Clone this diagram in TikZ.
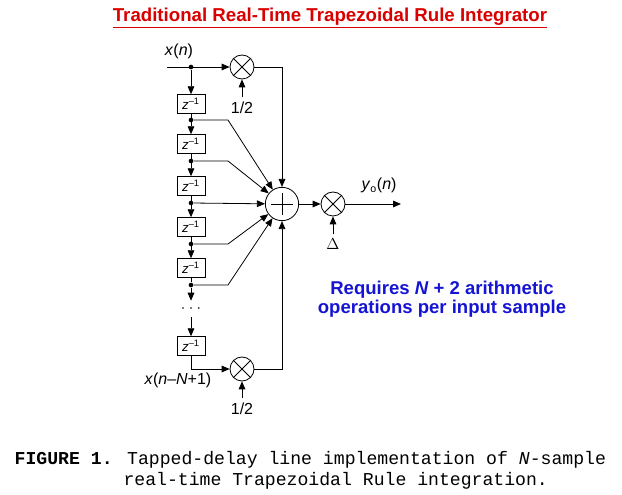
\documentclass[tikz,border=0pt]{standalone}
\usepackage{fontspec}
\setmainfont{Liberation Sans}
\newfontfamily\cour{Liberation Mono}
\usetikzlibrary{arrows.meta}
\newcommand{\zinv}{\textit{z}\textsuperscript{–1}}
\begin{document}
\begin{tikzpicture}[x=0.75pt,y=-0.75pt,
  sig/.style={line width=0.6pt,-{Triangle[length=6pt,width=5pt]}},
  ln/.style={line width=0.6pt},
  dly/.style={draw,line width=0.6pt,minimum width=21pt,minimum height=14pt,inner sep=0pt,font=\fontsize{10}{11}\selectfont},
  mul/.style={draw,circle,line width=0.6pt,minimum size=18pt,inner sep=0pt},
  dot/.style={circle,fill,inner sep=0pt,minimum size=3.5pt},
  lbl/.style={font=\fontsize{12}{14}\selectfont}]
\useasboundingbox (0,0) rectangle (622,495);
\node[font=\bfseries\fontsize{14}{16}\selectfont,text=red!85!black] (title) at (330,18) {\underline{Traditional Real-Time Trapezoidal Rule Integrator}};
% nodes
\coordinate (in) at (167,67);
\node[dot] (d0) at (191,67) {};
\node[lbl,anchor=south] (xn) at (179,64) {\itshape x\/\upshape(\itshape n\/\upshape)};
\node[mul] (m1) at (242,67) {};
\draw[ln] (m1.north west)--(m1.south east) (m1.north east)--(m1.south west);
\node[lbl] (h1) at (242,108) {1/2};
\node[dot] (d1) at (191,120) {};
\node[dot] (d2) at (191,161) {};
\node[dot] (d3) at (191,203) {};
\node[dot] (d4) at (191,244) {};
\node[dot] (d5) at (191,285) {};
\node[dly] (z1) at (191,104) {\zinv};
\node[dly] (z2) at (191,144) {\zinv};
\node[dly] (z3) at (191,186) {\zinv};
\node[dly] (z4) at (191,227) {\zinv};
\node[dly] (z5) at (191,268) {\zinv};
\node[lbl] (dots) at (191,309) {$\cdot\cdot\cdot$};
\node[dly] (z6) at (191,346) {\zinv};
\node[mul,minimum size=25pt] (s) at (282,204) {};
\draw[ln] ([yshift=-8pt]s.center)--([yshift=8pt]s.center) ([xshift=-8pt]s.center)--([xshift=8pt]s.center);
\node[mul] (m2) at (333,204) {};
\draw[ln] (m2.north west)--(m2.south east) (m2.north east)--(m2.south west);
\node[lbl] (delta) at (333,244) {$\Delta$};
\coordinate (out) at (401,204);
\node[lbl,anchor=south] (yo) at (379,198) {\itshape y\/\upshape\textsubscript{o}(\itshape n\/\upshape)};
\node[mul] (m3) at (242,369) {};
\draw[ln] (m3.north west)--(m3.south east) (m3.north east)--(m3.south west);
\node[lbl] (h2) at (242,409) {1/2};
\node[lbl,anchor=north east] (xl) at (216,368) {\itshape x\/\upshape(\itshape n\/\upshape–\itshape N\/\upshape+1)};
% connectors
\draw[sig] (in)--(m1);
\draw[sig] (d0)--(z1);
\draw[sig] (z1)--(z2);
\draw[sig] (z2)--(z3);
\draw[sig] (z3)--(z4);
\draw[sig] (z4)--(z5);
\draw[ln] (z5)--(d5);
\draw[sig] (d5)--(dots);
\draw[sig] (dots)--(z6);
\draw[sig] (h1)--(m1);
\draw[sig] (h2)--(m3);
\draw[sig] (delta)--(m2);
\draw[sig] (m1)-|(s);
\draw[sig] (m3)-|(s);
\draw[sig] (z6.south)|-(m3);
\draw[sig] (d1)--(228,120)--(s);
\draw[sig] (d2)--(228,161)--(s);
\draw[sig] (d3)--(s);
\draw[sig] (d4)--(228,244)--(s);
\draw[sig] (d5)--(228,285)--(s);
\draw[sig] (s)--(m2);
\draw[sig] (m2)--(out);
\node[font=\bfseries\fontsize{13.9}{15}\selectfont,text={rgb,255:red,20;green,20;blue,210},align=center] (req) at (442,299) {Requires \textit{N} + 2 arithmetic\\[-1pt]operations per input sample};
\node[anchor=west,font=\cour\fontsize{13.6}{16}\selectfont,align=left] (cap) at (10,470) {\textbf{FIGURE 1.} Tapped-delay line implementation of \textit{N}-sample\\\phantom{FIGURE 1.} real-time Trapezoidal Rule integration.};
\end{tikzpicture}
\end{document}
